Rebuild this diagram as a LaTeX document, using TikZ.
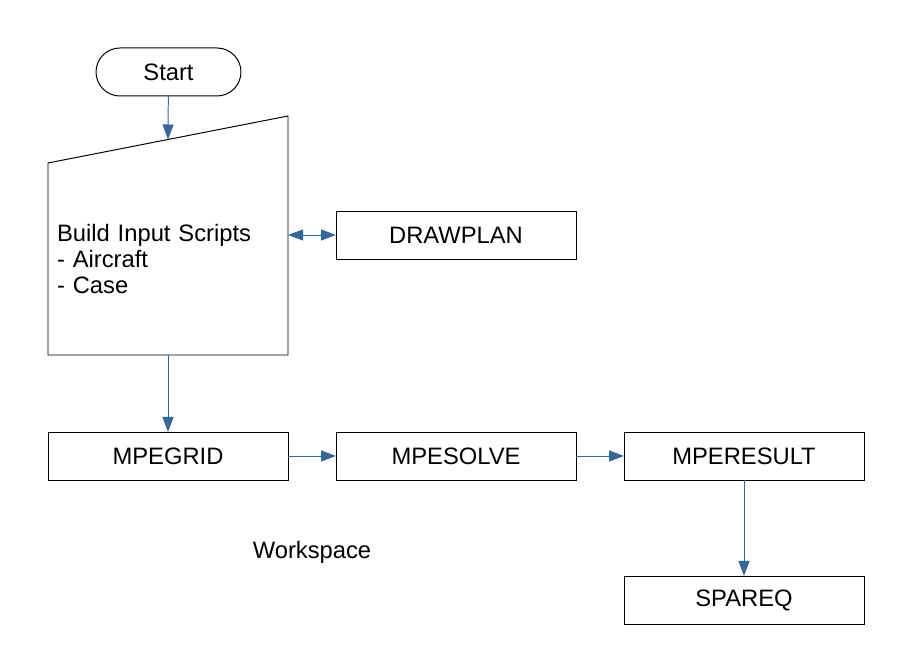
\documentclass[tikz,border=0pt]{standalone}
\usepackage{fontspec}
\setmainfont{Liberation Sans}
\usetikzlibrary{arrows.meta,calc}

\definecolor{flowblue}{HTML}{3465A4}

\begin{document}
\begin{tikzpicture}[>={Triangle[length=0.375cm,width=0.275cm]},
		font=\fontsize{16.9}{18.8}\selectfont,
		box/.style={draw, line width=0.7pt, minimum width=6cm, minimum height=1.2cm, inner sep=0pt, outer sep=0pt},
		link/.style={->, flowblue, line width=0.7pt}]
	\useasboundingbox (0,0) rectangle (22.8,16.8);
	\node[box, rounded corners=0.6cm, minimum width=3.625cm] (start) at (4.2125,15) {Start};
	\node[minimum width=6cm, minimum height=4.8cm, inner xsep=0.225cm, inner ysep=0pt, outer sep=0pt,
		text width=5.55cm, align=left] (build) at (4.2,10.325)
		{Build Input Scripts\\- Aircraft\\- Case};
	\draw[line width=0.7pt] (build.south west) -- (build.south east) -- ([yshift=1.175cm]build.north east)
		-- (build.north west) -- cycle;
	\coordinate (buildtop) at ($(build.north west)!0.5!([yshift=1.175cm]build.north east)$);
	\node[box] (drawplan) at (11.4,10.925) {DRAWPLAN};
	\node[box] (mpegrid) at (4.2,5.4) {MPEGRID};
	\node[box] (mpesolve) at (11.4,5.4) {MPESOLVE};
	\node[box] (mperesult) at (18.6,5.4) {MPERESULT};
	\node[box] (spareq) at (18.6,1.8) {SPAREQ};
	\node (workspace) at (7.8,2.98) {Workspace};

	\draw[link] (start) -- (buildtop);
	\draw[link, <->] (drawplan.west -| build.east) -- (drawplan.west);
	\draw[link] (build) -- (mpegrid);
	\draw[link] (mpegrid) -- (mpesolve);
	\draw[link] (mpesolve) -- (mperesult);
	\draw[link] (mperesult) -- (spareq);
\end{tikzpicture}
\end{document}
